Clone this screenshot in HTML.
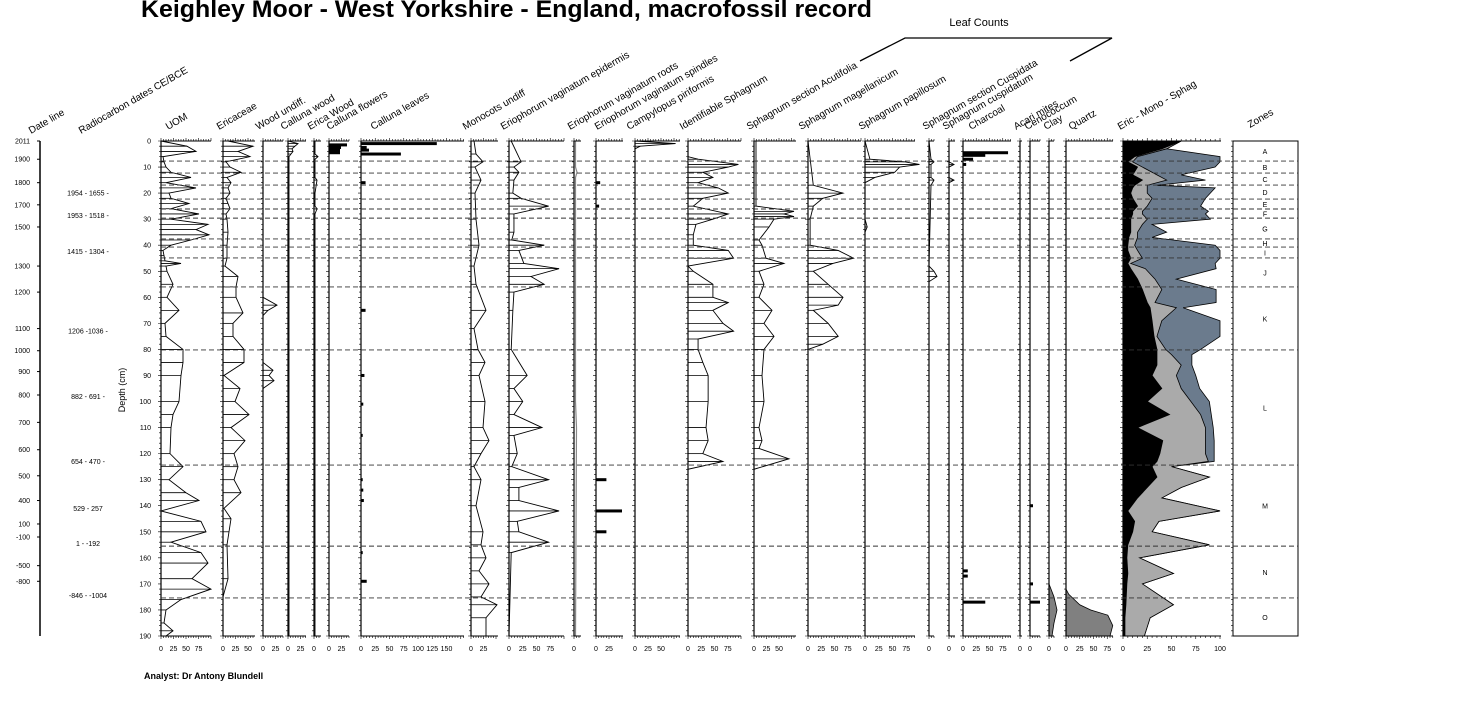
<!DOCTYPE html>
<html><head><meta charset="utf-8"><style>
body{margin:0;background:#fff;width:1476px;height:708px;overflow:hidden}
svg{display:block;font-family:"Liberation Sans",Arial,sans-serif}
</style></head><body>
<svg id="chart" width="1476" height="708" viewBox="0 0 1476 708">
<text x="141" y="17" font-size="24" font-weight="bold" textLength="731" lengthAdjust="spacingAndGlyphs">Keighley Moor - West Yorkshire - England, macrofossil record</text>
<text x="979" y="26" font-size="11" text-anchor="middle">Leaf Counts</text>
<polyline points="860,61 905,38 1112,38 1070,61" fill="none" stroke="#000" stroke-width="1.3"/>
<text x="144" y="679" font-size="9" font-weight="bold">Analyst: Dr Antony Blundell</text>
<text transform="translate(125,390) rotate(-90)" font-size="9" text-anchor="middle">Depth (cm)</text>
<g id="g"></g>
</svg>
<script>
// ---- data ----
const uomDepth=[0,2,4,6,8,10,12,14,16,18,20,22,24,26,28,30,32,34,36,38,40,42,44,46,47,48,50,55,60,65,70,75,80,85,90,100,105,110,120,125,130,135,138,142,146,150,154,158,162,168,172,176,180,185,188,190];
const uomVal=[0,52,70,4,6,10,20,60,10,70,16,20,56,20,76,20,94,70,96,60,20,4,6,8,40,10,12,24,12,36,8,10,44,44,40,36,24,20,18,44,16,50,76,0,80,90,20,80,94,62,100,40,10,6,24,10];
const ericDepth=[0,2,4,6,8,10,12,14,16,18,20,22,24,26,28,30,35,40,45,48,52,56,60,66,70,75,80,85,90,95,100,105,110,115,120,125,130,135,141,145,150,155,168,175,190];
const ericVal=[10,60,30,54,6,14,36,8,16,10,14,6,10,14,6,8,10,8,8,4,30,26,26,40,20,20,42,42,2,34,24,52,16,44,22,30,22,36,2,16,12,8,10,0,0];
const woodDepth=[0,60,63,65,67,85,88,90,92,95,190];
const woodVal=[0,0,28,10,0,0,20,12,22,0,0];
const cwoodDepth=[0,1,2,3,4,5,6,10,20,30,190];
const cwoodVal=[0,20,14,8,10,6,2,2,2,2,2];
const ewoodDepth=[0,5,6,7,10,14,15,20,25,26,28,30,190];
const ewoodVal=[2,2,8,2,2,2,6,2,2,6,2,2,2];
const cflowDepth=[1.5,2.5,3.5,4.5];
const cflowVal=[36,24,22,22];
const cleafDepth=[1,2.5,3.5,5,16,65,90,101,113,130,134,138,158,169];
const cleafVal=[133,10,14,70,8,8,6,4,3,3,4,5,3,10];
const monoDepth=[0,5,8,10,15,20,30,40,48,55,65,72,80,85,90,100,110,115,120,125,130,140,150,155,160,165,170,175,178,183,190];
const monoVal=[6,10,24,8,20,8,10,16,6,10,30,6,14,28,16,28,24,36,20,6,20,10,24,20,30,16,36,20,52,30,30];
const epidDepth=[0,8,10,12,15,20,22,25,28,35,38,40,42,47,49,52,55,58,65,80,90,95,100,105,110,113,120,125,130,133,138,142,146,150,154,158,190];
const epidVal=[4,22,9,18,9,7,22,72,9,9,5,64,18,27,91,40,64,9,7,4,33,9,25,9,60,9,15,5,72,18,18,91,15,18,72,4,0];
const rootDepth=[0,10,12,14,50,100,110,190];
const rootVal=[3,3,6,3,3,3,5,3];
const spinDepth=[16,25,130,142,150];
const spinVal=[8,6,20,50,20];
const campDepth=[0,1,2,3,190];
const campVal=[0,78,10,0,0];
const isphDepth=[0,6,7,9,10,12,14,16,18,20,22,25,28,30,32,36,40,42,45,48,50,55,60,62,65,70,73,76,80,85,90,100,110,115,120,123,126,190];
const isphVal=[0,0,19,95,76,28,47,19,57,76,28,10,76,47,15,10,10,76,86,0,10,47,47,76,47,66,86,19,19,28,38,38,34,38,28,66,0,0];
const acutDepth=[0,25,27,28,29,30,33,38,40,45,47,50,55,60,65,70,75,80,90,100,110,115,118,122,126,190];
const acutVal=[4,4,80,60,80,40,30,10,16,24,60,10,20,10,36,20,40,20,16,20,10,16,10,70,0,0];
const magDepth=[0,17,20,22,25,30,40,42,45,47,50,55,60,63,65,70,75,78,80,190];
const magVal=[0,10,66,28,10,4,4,57,86,47,10,38,66,57,10,38,57,28,0,0];
const papDepth=[0,7,8,9,10,12,14,16,30,33,35,190];
const papVal=[0,9,72,99,63,54,18,0,0,4,0,0];
const cuspDepth=[0,7,8,9,14,15,17,48,50,52,54,190];
const cuspVal=[0,4,10,4,4,10,4,0,10,16,0,0];
const cusmDepth=[0,8,9,10,14,15,16,190];
const cusmVal=[0,0,10,0,0,10,0,0];
const charDepth=[4.5,5.5,7,9,165,167,177];
const charVal=[85,42,19,6,9,9,42];
const cenoDepth=[140,170,177];
const cenoVal=[6,6,20];
const clayDepth=[170,175,180,185,190];
const clayVal=[0,10,16,10,6];
const quartzDepth=[172,174,178,180,182,186,190];
const quartzVal=[0,5,25,45,76,85,80];
const emsDepth=[0,3,6,8,10,13,15,17,18,20,22,25,27,28,30,32,35,37,40,42,45,47,49,53,57,62,64,69,75,80,82,86,90,95,100,105,110,115,120,123,125,129,133,137,142,146,150,155,160,166,170,178,183,190];
const emsEric=[60,40,12,5,15,10,20,12,10,8,10,15,10,10,8,8,8,6,5,5,8,5,8,15,20,25,28,30,32,35,35,35,30,40,25,48,15,41,38,35,30,35,25,15,5,12,10,5,4,5,4,3,2,2];
const emsMono=[0,5,3,5,5,25,25,13,15,17,20,10,10,10,17,12,7,9,7,10,12,3,15,18,20,8,27,10,3,9,15,25,25,20,45,32,70,44,47,53,20,54,35,25,95,25,20,84,13,47,16,49,26,20];
const emsSphag=[0,0,85,90,75,25,40,10,70,65,55,55,68,65,65,10,30,15,83,85,80,87,73,22,56,63,7,60,65,36,21,11,20,19,19,11,8,9,9,6,0,0,0,0,0,0,0,0,0,0,0,0,0,0];
const zoneBounds=[7.7,12.3,16.9,22.3,26.1,29.6,37.6,40.7,44.9,56,80.2,124.4,155.5,175.4];
const zoneNames=["A","B","C","D","E","F","G","H","I","J","K","L","M","N","O"];
const depthTicks=[0,10,20,30,40,50,60,70,80,90,100,110,120,130,140,150,160,170,180,190];
const dateLabels=["2011","1900","1800","1700","1500","1300","1200","1100","1000","900","800","700","600","500","400","100","-100","-500","-800"];
const dateDepths=[0,7,16,24.5,33,48,58,72,80.5,88.5,97.5,108,118.5,128.5,138,147,152,163,169];
const c14Labels=["1954 - 1655 -","1953 - 1518 -","1415 - 1304 -","1206 -1036 -","882 - 691 -","654 - 470 -","529 - 257","1 - -192","-846 - -1004"];
const c14Depths=[20,28.5,42.5,73,98,123,141,154.5,174.5];

// ---- layout ----
const Y0=141,PX=495/190;
const y=d=>Y0+d*PX;
const NS='http://www.w3.org/2000/svg';
const G=document.getElementById('g');
function mk(t,a,p){const e=document.createElementNS(NS,t);for(const k in a)e.setAttribute(k,a[k]);(p||G).appendChild(e);return e;}

const panels=[
 {id:'uom',t:'UOM',x:161,w:50,s:0.5,ticks:[0,25,50,75],lx:168,d:uomDepth,v:uomVal,k:'line'},
 {id:'ericaceae',t:'Ericaceae',x:223,w:32,s:0.5,ticks:[0,25,50],lx:219,d:ericDepth,v:ericVal,k:'line'},
 {id:'wood-undiff',t:'Wood undiff.',x:263,w:20,s:0.5,ticks:[0,25],lx:258,d:woodDepth,v:woodVal,k:'line'},
 {id:'calluna-wood',t:'Calluna wood',x:288,w:18,s:0.5,ticks:[0,25],lx:283,d:cwoodDepth,v:cwoodVal,k:'line'},
 {id:'erica-wood',t:'Erica Wood',x:314,w:7,s:0.5,ticks:[0],lx:310,d:ewoodDepth,v:ewoodVal,k:'line'},
 {id:'calluna-flowers',t:'Calluna flowers',x:329,w:20,s:0.5,ticks:[0,25],lx:329,d:cflowDepth,v:cflowVal,k:'bar'},
 {id:'calluna-leaves',t:'Calluna leaves',x:361,w:103,s:0.57,ticks:[0,25,50,75,100,125,150],lx:373,d:cleafDepth,v:cleafVal,k:'bar'},
 {id:'monocots-undiff',t:'Monocots undiff',x:471,w:27,s:0.5,ticks:[0,25],lx:465,d:monoDepth,v:monoVal,k:'line'},
 {id:'eriophorum-epidermis',t:'Eriophorum vaginatum epidermis',x:509,w:55,s:0.55,ticks:[0,25,50,75],lx:503,d:epidDepth,v:epidVal,k:'line'},
 {id:'eriophorum-roots',t:'Eriophorum vaginatum roots',x:574,w:7,s:0.5,ticks:[0],lx:570,d:rootDepth,v:rootVal,k:'gray'},
 {id:'eriophorum-spindles',t:'Eriophorum vaginatum spindles',x:596,w:27,s:0.52,ticks:[0,25],lx:597,d:spinDepth,v:spinVal,k:'bar'},
 {id:'campylopus',t:'Campylopus piriformis',x:635,w:45,s:0.52,ticks:[0,25,50],lx:629,d:campDepth,v:campVal,k:'line'},
 {id:'identifiable-sphagnum',t:'Identifiable Sphagnum',x:688,w:53,s:0.53,ticks:[0,25,50,75],lx:682,d:isphDepth,v:isphVal,k:'line'},
 {id:'sphagnum-acutifolia',t:'Sphagnum section Acutifolia',x:754,w:42,s:0.5,ticks:[0,25,50],lx:749,d:acutDepth,v:acutVal,k:'line'},
 {id:'sphagnum-magellanicum',t:'Sphagnum magellanicum',x:808,w:53,s:0.53,ticks:[0,25,50,75],lx:801,d:magDepth,v:magVal,k:'line'},
 {id:'sphagnum-papillosum',t:'Sphagnum papillosum',x:865,w:50,s:0.55,ticks:[0,25,50,75],lx:861,d:papDepth,v:papVal,k:'line'},
 {id:'sphagnum-cuspidata',t:'Sphagnum section Cuspidata',x:929,w:5,s:0.5,ticks:[0],lx:925,d:cuspDepth,v:cuspVal,k:'line'},
 {id:'sphagnum-cuspidatum',t:'Sphagnum cuspidatum',x:949,w:6,s:0.5,ticks:[0],lx:945,d:cusmDepth,v:cusmVal,k:'line'},
 {id:'charcoal',t:'Charcoal',x:963,w:48,s:0.53,ticks:[0,25,50,75],lx:971,d:charDepth,v:charVal,k:'bar'},
 {id:'acari-mites',t:'Acari mites',x:1020,w:2,s:0.5,ticks:[0],lx:1016,d:[],v:[],k:'line'},
 {id:'cenococcum',t:'Cenococcum',x:1030,w:10,s:0.5,ticks:[0],lx:1027,d:cenoDepth,v:cenoVal,k:'bar'},
 {id:'clay',t:'Clay',x:1049,w:5,s:0.5,ticks:[0],lx:1046,d:clayDepth,v:clayVal,k:'area'},
 {id:'quartz',t:'Quartz',x:1066,w:47,s:0.55,ticks:[0,25,50,75],lx:1071,d:quartzDepth,v:quartzVal,k:'area'},
 {id:'eric-mono-sphag',t:'Eric - Mono - Sphag',x:1123,w:98,s:0.97,ticks:[0,25,50,75,100],lx:1120,d:emsDepth,v:[],k:'stack'}
];

function axes(p,grp){
 const x0=p.x,x1=p.x+p.w;
 mk('line',{x1:x0,y1:Y0,x2:x0,y2:y(190),stroke:'#000','stroke-width':1.2},grp);
 mk('line',{x1:x0,y1:Y0,x2:x1,y2:Y0,stroke:'#000','stroke-width':1},grp);
 mk('line',{x1:x0,y1:y(190),x2:x1,y2:y(190),stroke:'#000','stroke-width':1},grp);
 let dstr='';
 for(let d=0;d<=190;d+=2){const L=d%10===0?3:2;dstr+=`M${x0} ${y(d)}h${-L}`;}
 for(let u=0;u*p.s<=p.w+0.1;u+=5){const xx=x0+u*p.s,L=u%25===0?3:2;dstr+=`M${xx} ${Y0}v${-L}M${xx} ${y(190)}v${L}`;}
 mk('path',{d:dstr,stroke:'#000','stroke-width':0.6,fill:'none'},grp);
 p.ticks.forEach(t=>{const tx=mk('text',{x:x0+t*p.s,y:651,'font-size':7,'text-anchor':'middle'},grp);tx.textContent=t;});
 const lb=mk('text',{x:p.lx,y:130,'font-size':10,transform:`rotate(-30 ${p.lx} 130)`},grp);lb.textContent=p.t;
 
 
}

panels.forEach(p=>{
 const grp=mk('g',{});
 
 
 const X=v=>p.x+v*p.s;
 if(p.k==='line'&&p.d.length){
  let pts=`${p.x},${y(p.d[0])} `+p.d.map((d,i)=>`${X(p.v[i])},${y(d)}`).join(' ')+` ${p.x},${y(p.d[p.d.length-1])}`;
  const pg=mk('polygon',{points:pts,fill:'#fff',stroke:'#000','stroke-width':0.9},grp);
  
  
  p.d.forEach((d,i)=>{if(p.v[i]>0){const l=mk('line',{x1:p.x,y1:y(d),x2:X(p.v[i]),y2:y(d),stroke:'#000','stroke-width':0.8},grp);
   
   }});
 } else if(p.k==='gray'){
  const pts=p.d.map((d,i)=>`${X(p.v[i])},${y(d)}`).join(' ');
  mk('polyline',{points:pts,fill:'none',stroke:'#888','stroke-width':1.2},grp);
 } else if(p.k==='bar'){
  p.d.forEach((d,i)=>{const r=mk('rect',{x:p.x,y:y(d)-1.5,width:p.v[i]*p.s,height:3,fill:'#000'},grp);
   
   });
 } else if(p.k==='area'){
  const pts=`${p.x},${y(p.d[0])} `+p.d.map((d,i)=>`${X(p.v[i])},${y(d)}`).join(' ')+` ${p.x},${y(p.d[p.d.length-1])}`;
  const a=mk('polygon',{points:pts,fill:'#808080',stroke:'#000','stroke-width':0.8},grp);
  
  
 } else if(p.k==='stack'){
  const c1=emsEric, c2=emsEric.map((v,i)=>v+emsMono[i]), c3=c2.map((v,i)=>v+emsSphag[i]);
  const poly=(arr,fill,nm)=>{const pts=`${p.x},${y(0)} `+p.d.map((d,i)=>`${X(arr[i])},${y(d)}`).join(' ')+` ${p.x},${y(190)}`;
   const e=mk('polygon',{points:pts,fill:fill,stroke:'#000','stroke-width':0.8},grp);
   
   };
  poly(c3,'#6b7b8d','sphag-area');poly(c2,'#aaaaaa','mono-area');poly(c1,'#000','eric-area');
 }
 axes(p,grp);
});

// zones box
const zb=mk('rect',{x:1233,y:Y0,width:65,height:y(190)-Y0,fill:'none',stroke:'#000','stroke-width':1});


const zh=mk('text',{x:1250,y:128,'font-size':10,transform:'rotate(-30 1250 128)'});zh.textContent='Zones';


let zt='';for(let d=0;d<=190;d+=2)zt+=`M1233 ${y(d)}h-2`;mk('path',{d:zt,stroke:'#000','stroke-width':0.6});
const zEdges=[0,...zoneBounds,190];
zoneNames.forEach((n,i)=>{const t=mk('text',{x:1265,y:(y(zEdges[i])+y(zEdges[i+1]))/2+3,'font-size':7,'text-anchor':'middle'});t.textContent=n;
 
 });
zoneBounds.forEach(d=>{const l=mk('line',{x1:161,y1:y(d),x2:1298,y2:y(d),stroke:'#333','stroke-width':0.9,'stroke-dasharray':'5,3'});
 
 });

// depth axis labels
depthTicks.forEach(d=>{const t=mk('text',{x:151,y:y(d)+2.5,'font-size':7,'text-anchor':'end'});t.textContent=d;
 
 });

// date line
const dl=mk('line',{x1:40,y1:Y0,x2:40,y2:y(190),stroke:'#000','stroke-width':1.5});


const dh=mk('text',{x:31,y:134,'font-size':10,transform:'rotate(-30 31 134)'});dh.textContent='Date line';


const rh=mk('text',{x:81,y:134,'font-size':10,transform:'rotate(-30 81 134)'});rh.textContent='Radiocarbon dates CE/BCE';


dateLabels.forEach((s,i)=>{const yy=y(dateDepths[i]);mk('line',{x1:37,y1:yy,x2:40,y2:yy,stroke:'#000','stroke-width':1});
 const t=mk('text',{x:30,y:yy+2.5,'font-size':7,'text-anchor':'end'});t.textContent=s;
 
 });
c14Labels.forEach((s,i)=>{const t=mk('text',{x:88,y:y(c14Depths[i])+2.5,'font-size':7,'text-anchor':'middle'});t.textContent=s;
 
 });
</script>
</body></html>
